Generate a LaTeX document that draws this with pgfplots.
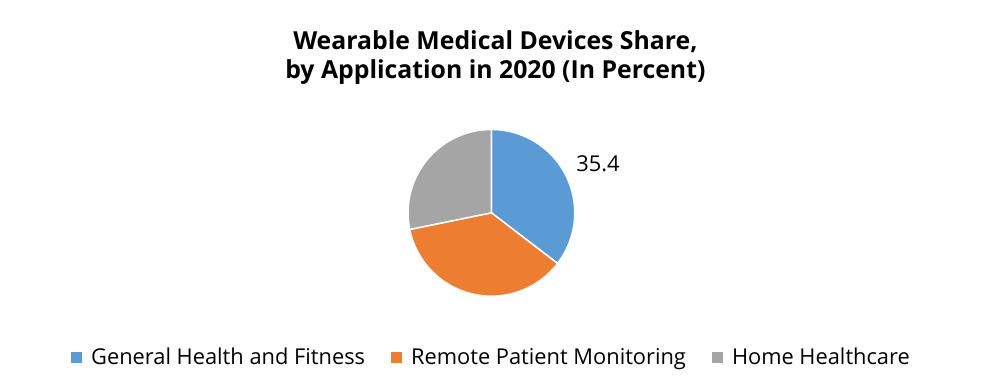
\documentclass[border=0pt]{standalone}
\usepackage{pgfplots}
\pgfplotsset{compat=1.18}
\usepackage{pgfplotstable}
\usepackage{fontspec}
\setmainfont{Open Sans}
\definecolor{cA}{HTML}{5B9BD5}
\definecolor{cB}{HTML}{ED7D31}
\definecolor{cC}{HTML}{A5A5A5}
\pgfplotstableread{
label share
General 35.4
Remote 36.4
Home 28.2
}\sharetable
\begin{document}
\pgfplotstablegetelem{0}{share}\of\sharetable\let\sA\pgfplotsretval
\pgfplotstablegetelem{1}{share}\of\sharetable\let\sB\pgfplotsretval
\pgfplotstablegetelem{2}{share}\of\sharetable\let\sC\pgfplotsretval
\pgfmathsetmacro\eA{90-3.6*\sA}
\pgfmathsetmacro\eB{\eA-3.6*\sB}
\pgfmathsetmacro\eC{\eB-3.6*\sC}
\begin{tikzpicture}
\useasboundingbox (0,0) rectangle (983pt,393pt);
\node[font=\bfseries\fontsize{25}{30}\selectfont, align=center] at (491.5pt,335pt)
  {Wearable Medical Devices Share,\\by Application in 2020 (In Percent)};
\begin{axis}[
  at={(487.5pt,178.5pt)}, anchor=origin,
  x=84pt, y=84pt,
  xmin=-1.2, xmax=1.2, ymin=-1.2, ymax=1.2,
  hide axis, clip=false,
  legend columns=3,
  legend style={at={(axis description cs:0.5,-0.222)}, anchor=center, draw=none,
    font=\fontsize{22}{26}\selectfont, inner sep=0pt,
    /tikz/every even column/.append style={column sep=24pt}},
  legend cell align=left,
]
\addplot[fill=cA, draw=white, line width=1.5pt, domain=\eA:90, samples=90, variable=\t, forget plot]
  ({cos(\t)},{sin(\t)}) -- (axis cs:0,0) -- cycle;
\addplot[fill=cB, draw=white, line width=1.5pt, domain=\eB:\eA, samples=90, variable=\t, forget plot]
  ({cos(\t)},{sin(\t)}) -- (axis cs:0,0) -- cycle;
\addplot[fill=cC, draw=white, line width=1.5pt, domain=\eC:\eB, samples=90, variable=\t, forget plot]
  ({cos(\t)},{sin(\t)}) -- (axis cs:0,0) -- cycle;
\node[font=\fontsize{22}{26}\selectfont] at (axis cs:1.28,0.589) {35.4};
\addlegendimage{legend image code/.code={\fill[cA] (0pt,-5pt) rectangle (10pt,5pt); \path (18pt,0pt);}}
\addlegendentry{General Health and Fitness}
\addlegendimage{legend image code/.code={\fill[cB] (0pt,-5pt) rectangle (10pt,5pt); \path (18pt,0pt);}}
\addlegendentry{Remote Patient Monitoring}
\addlegendimage{legend image code/.code={\fill[cC] (0pt,-5pt) rectangle (10pt,5pt); \path (18pt,0pt);}}
\addlegendentry{Home Healthcare}
\end{axis}
\end{tikzpicture}
\end{document}
